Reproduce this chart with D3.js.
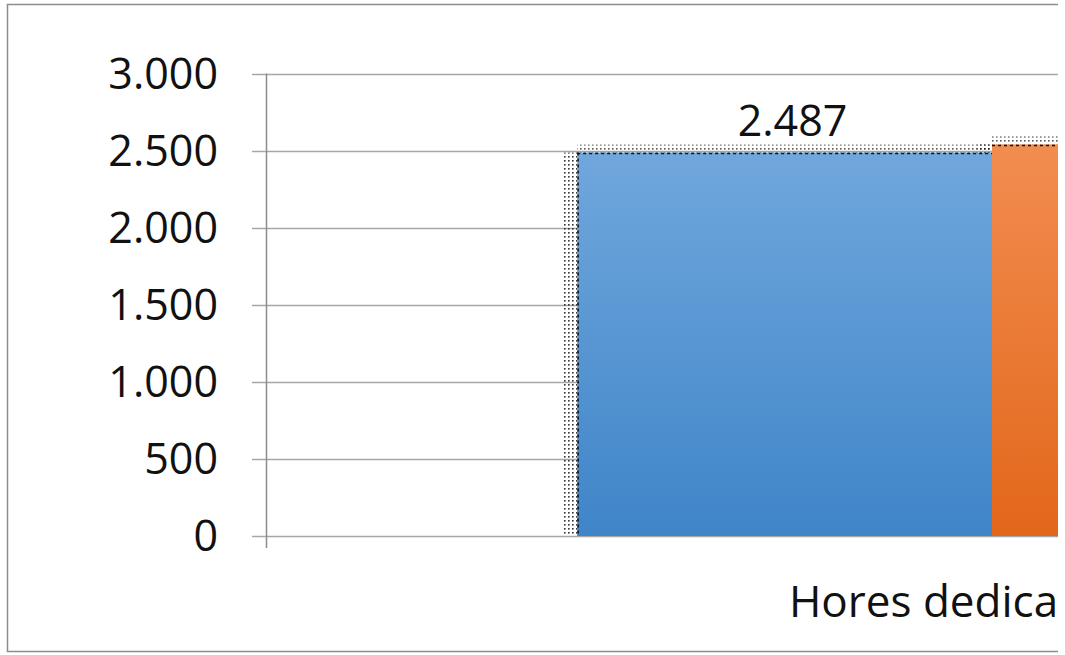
<!DOCTYPE html>
<html><head><meta charset="utf-8">
<script src="https://cdn.jsdelivr.net/npm/d3@7"></script>
<style>html,body{margin:0;padding:0;background:#fff;}svg{display:block;}</style>
</head><body>
<script>
const categories = ["Hores dedicades (h)"];
const seriesNames = ["Sèrie 1", "Sèrie 2"];
const seriesValues = [[2487], [2540]];
const yTicks = [0, 500, 1000, 1500, 2000, 2500, 3000];
const valueLabels = ["2.487", "2.540"];

const W = 1065, H = 655;
const clipRight = 1058;
const font = "'Open Sans', 'Liberation Sans', sans-serif";
const svg = d3.select("body").append("svg").attr("width", W).attr("height", H);
const defs = svg.append("defs");
defs.append("clipPath").attr("id","clip").append("rect").attr("x",0).attr("y",0).attr("width",clipRight).attr("height",H);
const grads = [["#70a7dd","#3f85c8"],["#f28d50","#e2671a"]];
grads.forEach((g,i)=>{
  const lg = defs.append("linearGradient").attr("id","g"+i).attr("x1",0).attr("y1",0).attr("x2",0).attr("y2",1);
  lg.append("stop").attr("offset","0%").attr("stop-color",g[0]);
  lg.append("stop").attr("offset","100%").attr("stop-color",g[1]);
});
const pat = defs.append("pattern").attr("id","dots").attr("patternUnits","userSpaceOnUse").attr("width",4).attr("height",4);
pat.append("rect").attr("x",0).attr("y",0).attr("width",1.6).attr("height",1.6).attr("fill","#111");

const root = svg.append("g").attr("clip-path","url(#clip)");
// frame
root.append("rect").attr("x",7.5).attr("y",4.5).attr("width",1100).attr("height",647).attr("fill","#fff").attr("stroke","#8c8c8c").attr("stroke-width",1.5);

const y = d3.scaleLinear().domain([0,3000]).range([536,73.5]);
const x = d3.scaleBand().domain(categories).range([266, 266+1452]);
const xs = d3.scaleBand().domain(seriesNames).range([0, x.bandwidth()]).paddingInner(0).paddingOuter(0.75);

// gridlines
root.append("g").selectAll("line").data(yTicks).join("line")
  .attr("x1",252).attr("x2",1100).attr("y1",d=>Math.round(y(d))+0.5).attr("y2",d=>Math.round(y(d))+0.5)
  .attr("stroke","#a6a6a6").attr("stroke-width",1.3);
// y axis line
root.append("line").attr("x1",266.5).attr("x2",266.5).attr("y1",y(3000)).attr("y2",548).attr("stroke","#8c8c8c").attr("stroke-width",1.5);
// y labels
root.append("g").selectAll("text").data(yTicks).join("text")
  .attr("x",218).attr("y",d=>y(d)).attr("dy","0.36em").attr("text-anchor","end")
  .attr("font-family",font).attr("font-size",43).attr("fill","#111")
  .text(d=>d3.format(",")(d).replace(/,/g,"."));

const barInfo = seriesNames.map((s,i)=>{
  const bx = x(categories[0])+xs(s), bw = xs.bandwidth();
  return {bx, bw, top: y(seriesValues[i][0]), bot: y(0), i};
});
// dotted shadows first
barInfo.forEach(b=>{
  root.append("rect").attr("x",b.bx-15).attr("y",b.top).attr("width",15).attr("height",b.bot-b.top).attr("fill","url(#dots)").attr("opacity",0.85);
  root.append("rect").attr("x",b.bx).attr("y",b.top-8).attr("width",b.bw).attr("height",8).attr("fill","url(#dots)").attr("opacity",0.7);
});
// bars
barInfo.forEach(b=>{
  root.append("rect").attr("x",b.bx).attr("y",b.top).attr("width",b.bw).attr("height",b.bot-b.top).attr("fill","url(#g"+b.i+")");
  root.append("line").attr("x1",b.bx).attr("x2",b.bx+b.bw).attr("y1",b.top+1).attr("y2",b.top+1).attr("stroke","#111").attr("stroke-width",1.5).attr("stroke-dasharray","3,3");
  if (b.i === 0) root.append("line").attr("x1",b.bx+1).attr("x2",b.bx+1).attr("y1",b.top).attr("y2",b.bot).attr("stroke","#111").attr("stroke-width",1.5).attr("stroke-dasharray","3,3");
  const lx = b.bx+b.bw/2+8;
  if (lx < clipRight - 100) {
    root.append("text").attr("x",lx).attr("y",b.top-17).attr("text-anchor","middle")
      .attr("font-family",font).attr("font-size",43).attr("fill","#111").text(valueLabels[b.i]);
  }
});

// category label
root.append("text").attr("x",x(categories[0])+x.bandwidth()/2).attr("y",617).attr("text-anchor","middle")
  .attr("font-family",font).attr("font-size",44).attr("fill","#111").text(categories[0]);
</script>
</body></html>
